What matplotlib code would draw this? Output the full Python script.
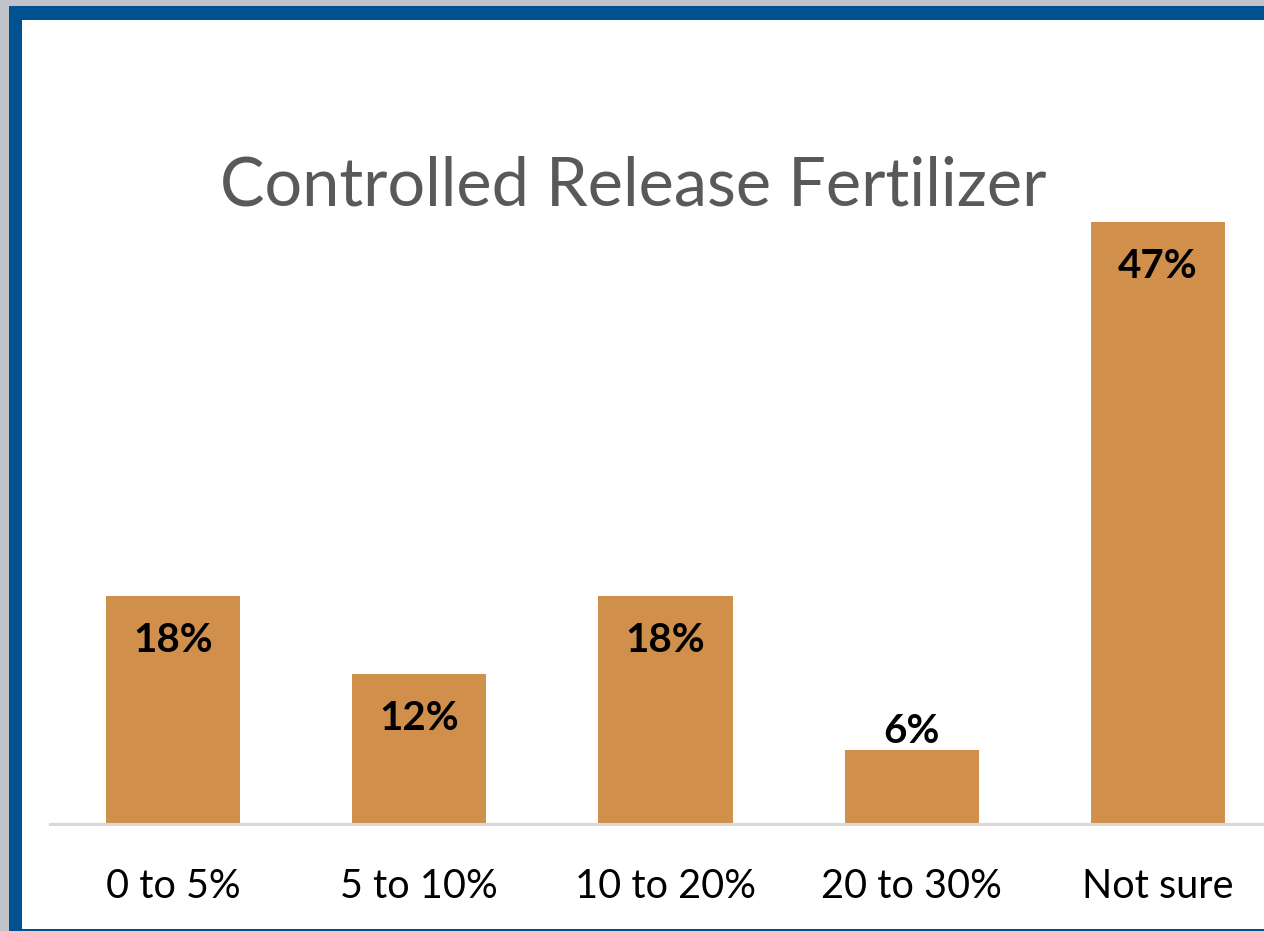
import matplotlib.pyplot as plt
from matplotlib.patches import Rectangle

categories = ['0 to 5%', '5 to 10%', '10 to 20%', '20 to 30%', 'Not sure']
values = [17.8, 11.7, 17.8, 5.8, 47.0]
title = 'Controlled Release Fertilizer'

W, H = 1264, 931
fig = plt.figure(figsize=(W / 100, H / 100), dpi=100, facecolor='#c0c3ca')

# blue frame and white inner panel
fig.patches.append(Rectangle((9 / W, 0), 1.0, (H - 6) / H, transform=fig.transFigure,
                             facecolor='#00518f', edgecolor='none', zorder=-2))
fig.patches.append(Rectangle((22 / W, 2 / H), 1.0, (929 - 20) / H, transform=fig.transFigure,
                             facecolor='white', edgecolor='none', zorder=-1))

ax = fig.add_axes([50 / W, (H - 824) / H, (1281 - 50) / W, 640.5 / H])
ax.set_zorder(1)
ax.set_facecolor('none')
x = range(len(categories))
ax.bar(x, values, width=0.545, color='#d08f4b', zorder=2)
ax.set_xlim(-0.5, 4.5)
ax.set_ylim(0, 50)

for s in ['top', 'right', 'left']:
    ax.spines[s].set_visible(False)
ax.spines['bottom'].set_color('#d9d9d9')
ax.spines['bottom'].set_linewidth(2.2)
ax.set_yticks([])
ax.set_xticks(list(x))
ax.set_xticklabels(categories, fontsize=28.5, fontfamily='Lato', color='black')
ax.tick_params(axis='x', length=0, pad=32)

for i, v in enumerate(values):
    if v < 10:
        off = 13
    else:
        off = -32
    ax.annotate(f'{v:.0f}%', (i, v), xytext=(0, off), textcoords='offset points',
                ha='center', va='center', fontsize=29, fontweight='bold',
                fontfamily='Lato', color='black', zorder=3)

fig.text(633 / W, 1 - 187 / H, title, ha='center', va='center', fontsize=48,
         fontfamily='Lato', color='#595959', zorder=2)

fig.savefig('out.png', dpi=100, facecolor=fig.get_facecolor())
